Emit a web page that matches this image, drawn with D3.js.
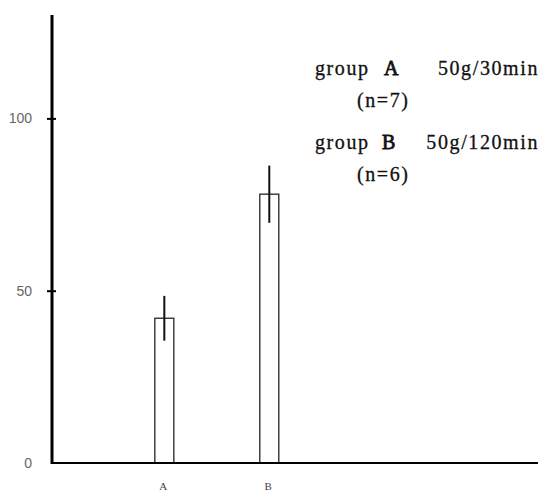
<!DOCTYPE html>
<html>
<head>
<meta charset="utf-8">
<script src="https://cdn.jsdelivr.net/npm/d3@7"></script>
<style>
  body { margin: 0; background: #fff; }
  svg { display: block; }
</style>
</head>
<body>
<div id="container"></div>
<script>
// values
var groups = ['A', 'B'];
var means = [42, 78];
var errors = [6.5, 8.3];
var yTicks = [0, 50, 100];
var legendLines = [
    { label: 'group', key: 'A', dose: '50g/30min' },
    { label: 'group', key: 'B', dose: '50g/120min' }
];
var legendCounts = ['(n=7)', '(n=6)'];

var width = 543,
    height = 495,
    barWidth = 19;

var svg = d3.select('#container')
    .append('svg')
    .attr('width', width)
    .attr('height', height);

var scaleY = d3.scaleLinear()
    .domain([0, 130])
    .range([463, 15]);

var scaleX = d3.scaleLinear()
    .domain([-0.07, 4.56])
    .range([52, 538]);

// bars
var bar = svg.selectAll('g.bar')
    .data(groups)
    .enter()
    .append('g')
    .attr('class', 'bar')
    .attr('transform', function(d, i) {
        return 'translate(' + scaleX(i + 1) + ',0)';
    });

bar.append('rect')
    .attr('x', -barWidth / 2)
    .attr('y', function(d, i) { return scaleY(means[i]); })
    .attr('width', barWidth)
    .attr('height', function(d, i) { return scaleY(0) - scaleY(means[i]); })
    .style('fill', 'none')
    .style('stroke', '#333')
    .style('stroke-width', 1.4);

bar.append('line')
    .attr('x1', 0)
    .attr('x2', 0)
    .attr('y1', function(d, i) { return scaleY(means[i] + errors[i]); })
    .attr('y2', function(d, i) { return scaleY(means[i] - errors[i]); })
    .style('stroke', '#111')
    .style('stroke-width', 2);

bar.append('text')
    .text(function(d) { return d; })
    .attr('x', -1)
    .attr('y', 490)
    .attr('text-anchor', 'middle')
    .style('font-family', '"Liberation Serif", serif')
    .style('font-size', '11px')
    .style('fill', '#444');

// axes
var yAxis = svg.append('g')
    .attr('transform', 'translate(52,0)')
    .call(d3.axisLeft(scaleY).tickValues(yTicks).tickSize(5).tickPadding(15).tickFormat(d3.format('d')));
yAxis.select('.domain').remove();
yAxis.selectAll('.tick line')
    .attr('x1', -5)
    .attr('x2', 4)
    .style('stroke-width', 2)
    .style('display', function(d) { return d === 0 ? 'none' : null; });
yAxis.selectAll('.tick text')
    .style('font-family', '"Liberation Sans", sans-serif')
    .style('font-size', '14px')
    .style('fill', '#666');

svg.append('line')
    .attr('x1', 52).attr('x2', 52)
    .attr('y1', scaleY(130)).attr('y2', scaleY(0) + 1)
    .style('stroke', '#000')
    .style('stroke-width', 3);

svg.append('line')
    .attr('x1', 51).attr('x2', 538)
    .attr('y1', scaleY(0)).attr('y2', scaleY(0))
    .style('stroke', '#000')
    .style('stroke-width', 2);

// legend
var legend = svg.append('g')
    .style('font-family', '"Liberation Serif", "Times New Roman", serif')
    .style('font-size', '20px')
    .style('fill', '#111')
    .style('stroke', '#111')
    .style('stroke-width', 0.3)
    .style('letter-spacing', '1.6px');

legendLines.forEach(function(d, i) {
    var y = 75 + i * 74;
    legend.append('text').attr('x', 315).attr('y', y).text(d.label);
    legend.append('text').attr('x', 384 - i * 2).attr('y', y)
        .style('stroke-width', 0.8).text(d.key);
    legend.append('text').attr('x', 539).attr('y', y)
        .attr('text-anchor', 'end').text(d.dose);
    legend.append('text').attr('x', 357).attr('y', y + 32).text(legendCounts[i]);
});
</script>
</body>
</html>
